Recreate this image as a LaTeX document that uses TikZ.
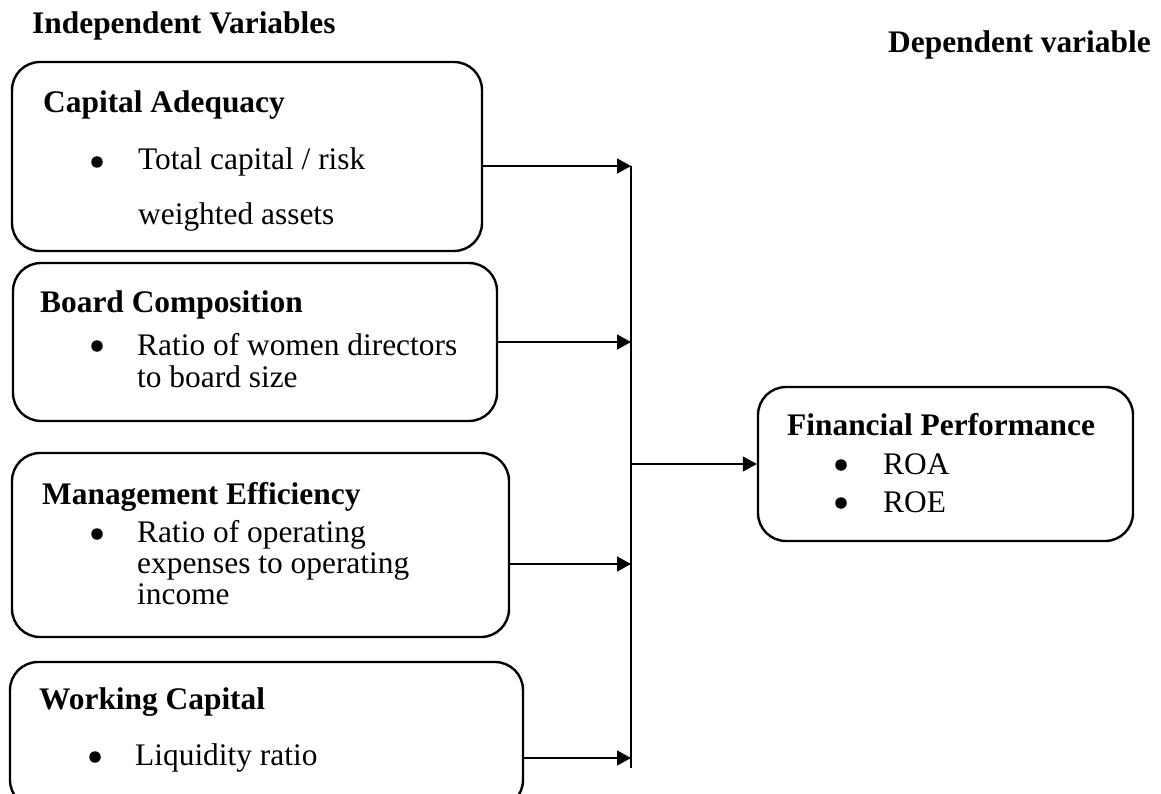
\documentclass[tikz,border=0pt]{standalone}
\usepackage{fontspec}
\setmainfont{Liberation Serif}
\usetikzlibrary{arrows.meta}
\begin{document}
\begin{tikzpicture}[x=1pt,y=-1pt,
  box/.style={draw, line width=2.4pt, rounded corners=28pt, inner sep=0pt},
  lbl/.style={anchor=base west, inner sep=0pt, font=\fontsize{31.4}{31}\selectfont},
  hd/.style={anchor=base west, inner sep=0pt, font=\fontsize{31.4}{31}\selectfont\bfseries},
  bul/.style={circle, fill, inner sep=0pt, minimum size=11.5pt},
  conn/.style={line width=1.5pt, -{Triangle[length=14pt,width=15pt]}},
  bus/.style={line width=2pt}]
\clip (0,0) rectangle (1161,794);
\fill[white] (0,0) rectangle (1161,794);

% boxes
\node[box, minimum width=470pt, minimum height=189pt] (b1) at (247,156.5) {};
\node[box, minimum width=484pt, minimum height=158pt] (b2) at (255,342) {};
\node[box, minimum width=497pt, minimum height=184pt] (b3) at (260.5,545) {};
\node[box, minimum width=513pt, minimum height=146pt] (b4) at (266.5,735) {};
\node[box, minimum width=375pt, minimum height=154pt] (fp) at (945.5,464) {};

% headings
\node[hd] (hind) at (32,34) {Independent Variables};
\node[hd] (hdep) at (888,53) {Dependent variable};

% box 1
\node[hd] (t1) at (43,113) {Capital Adequacy};
\node[bul] (u1) at (97,162) {};
\node[lbl] (t1a) at (138,170) {Total capital / risk};
\node[lbl] (t1b) at (138,225) {weighted assets};

% box 2
\node[hd] (t2) at (40,312) {Board Composition};
\node[bul] (u2) at (97,346) {};
\node[lbl] (t2a) at (137,355) {Ratio of women directors};
\node[lbl] (t2b) at (137,387) {to board size};

% box 3
\node[hd] (t3) at (42,504) {Management Efficiency};
\node[bul] (u3) at (97,534) {};
\node[lbl] (t3a) at (137,542) {Ratio of operating};
\node[lbl] (t3b) at (137,573) {expenses to operating};
\node[lbl] (t3c) at (137,604) {income};

% box 4
\node[hd] (t4) at (39,709) {Working Capital};
\node[bul] (u4) at (95,757) {};
\node[lbl] (t4a) at (135,765) {Liquidity ratio};

% financial performance
\node[hd] (t5) at (787,435) {Financial Performance};
\node[bul] (u5) at (841,465) {};
\node[lbl] (t5a) at (883,474) {ROA};
\node[bul] (u6) at (841,503) {};
\node[lbl] (t5b) at (883,512) {ROE};

% bus coordinates
\coordinate (c1) at (631,166);
\coordinate (c2) at (631,342);
\coordinate (c3) at (631,564);
\coordinate (c4) at (631,758);
\coordinate (cm) at (631,464);
\coordinate (cb) at (631,768);

\draw[bus] (c1) -- (cb);
\draw[conn] (b1.east |- c1) -- (c1);
\draw[conn] (b2.east |- c2) -- (c2);
\draw[conn] (b3.east |- c3) -- (c3);
\draw[conn] (b4.east |- c4) -- (c4);
\draw[conn] (cm) -- (fp.west);
\end{tikzpicture}
\end{document}
